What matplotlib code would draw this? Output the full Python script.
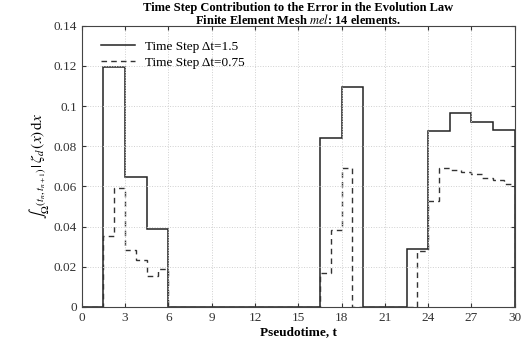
import numpy as np
import matplotlib
matplotlib.use('Agg')
import matplotlib.pyplot as plt

# error contribution per time step
dt_coarse = 1.5
err_coarse = [0, 0.1195, 0.0648, 0.0388, 0, 0, 0, 0, 0, 0, 0,
              0.0843, 0.1093, 0, 0, 0.0286, 0.0876, 0.0966, 0.0921, 0.088]
dt_fine = 0.75
err_fine = [0, 0, 0.0354, 0.0592, 0.0283, 0.0232, 0.0153, 0.0189,
            0, 0, 0, 0, 0, 0, 0, 0, 0, 0, 0, 0, 0, 0,
            0.0167, 0.0384, 0.069, 0, 0, 0, 0, 0, 0,
            0.028, 0.0529, 0.069, 0.068, 0.067, 0.066, 0.064, 0.063, 0.061]
x_ticks = [0, 3, 6, 9, 12, 15, 18, 21, 24, 27, 30]
y_ticks = [0, 0.02, 0.04, 0.06, 0.08, 0.1, 0.12, 0.14]
y_labels = ['0', '0.02', '0.04', '0.06', '0.08', '0.1', '0.12', '0.14']

plt.rcParams['font.family'] = ['Liberation Serif', 'DejaVu Serif']
plt.rcParams['mathtext.fontset'] = 'stix'

fig = plt.figure(figsize=(5.21, 3.54), dpi=100)
ax = fig.add_axes([0.157, 0.133, 0.831, 0.794])

edges_c = np.arange(len(err_coarse) + 1) * dt_coarse
edges_f = np.arange(len(err_fine) + 1) * dt_fine
ax.stairs(err_coarse, edges_c, color='#222222', lw=1.1, label='Time Step \u0394t=1.5')
ax.stairs(err_fine, edges_f, color='#333333', lw=1.0, ls=(0, (4, 3)), label='Time Step \u0394t=0.75')

ax.set_xlim(0, 30)
ax.set_ylim(0, 0.14)
ax.set_xticks(x_ticks)
ax.set_yticks(y_ticks)
ax.set_yticklabels(y_labels)
ax.tick_params(direction='in', length=3, top=True, right=True, labelsize=9.5, colors='#333333')
ax.grid(True, ls=':', color='#d0d0d0', lw=0.7)
for s in ax.spines.values():
    s.set_color('#444444')
    s.set_linewidth(0.8)

ax.set_xlabel('Pseudotime, t', fontweight='bold', fontsize=9.5, labelpad=2)
ax.set_ylabel(r'$\int_{\Omega}{}_{(t_n,t_{n+1})}|\,\zeta_d\,(x)\,\mathrm{d}x$', fontsize=11, labelpad=1)
ax.set_title('Time Step Contribution to the Error in the Evolution Law\n'
             'Finite Element Mesh $\\mathit{mel}$: 14 elements.',
             fontweight='bold', fontsize=9, linespacing=0.95, pad=1)

ax.legend(loc='upper left', bbox_to_anchor=(0.025, 0.975), frameon=False, fontsize=9.5,
          handlelength=2.6, borderaxespad=0.2, labelspacing=0.25)

fig.savefig('out.png', dpi=100)
